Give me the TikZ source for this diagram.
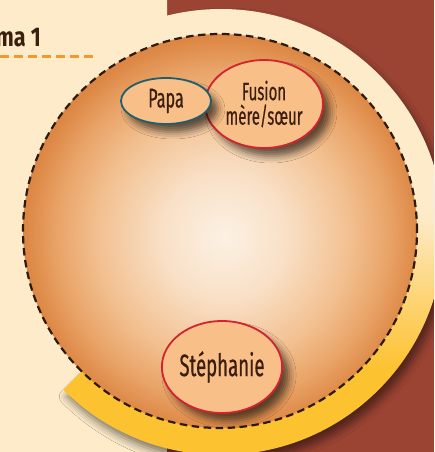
\documentclass[tikz,border=0pt]{standalone}
\usepackage{fontspec}
\setmainfont{Fira Sans}[FakeStretch=0.6, FakeBold=0.5]
\newfontfamily\titlefont{Fira Sans}[FakeStretch=0.8]
\usetikzlibrary{shapes.geometric,shadows.blur}
\definecolor{bgc}{HTML}{FDEBCA}
\definecolor{brownbg}{HTML}{9B4433}
\definecolor{ringY}{HTML}{FDC230}
\definecolor{ringC}{HTML}{FDEBCA}
\definecolor{discC}{HTML}{FCF1E4}
\definecolor{discA}{HTML}{F9E0C6}
\definecolor{discM}{HTML}{F2C090}
\definecolor{discN}{HTML}{E9A468}
\definecolor{discE}{HTML}{DD8744}
\definecolor{nodefill}{HTML}{F9BF88}
\definecolor{txt}{HTML}{3A1E0E}
\definecolor{tealb}{HTML}{1F5E6C}
\definecolor{redb}{HTML}{D2232F}
\definecolor{dashc}{HTML}{2C1A0E}
\definecolor{orangedash}{HTML}{F3972F}
\pgfdeclareradialshading{disc}{\pgfpoint{0.6bp}{-0.8bp}}{color(0bp)=(discC); color(8bp)=(discA); color(16bp)=(discM); color(21bp)=(discN); color(25bp)=(discE); color(50bp)=(discE)}
\pgfdeclareverticalshading{ring}{100bp}{color(0bp)=(ringY); color(36bp)=(ringY); color(52bp)=(ringC); color(100bp)=(ringC)}
\tikzset{
  person/.style={ellipse, draw, line width=1.8pt, fill=nodefill, text=txt, inner sep=0pt, align=center,
    blur shadow={shadow xshift=7pt, shadow yshift=-8pt, shadow blur radius=7pt, shadow opacity=60}},
  discline/.style={draw=dashc, line width=2.2pt, dash pattern=on 7.5pt off 4.5pt},
  titledash/.style={draw=orangedash, line width=2.6pt, dash pattern=on 9pt off 5pt}
}
\begin{document}
\begin{tikzpicture}[x=1pt,y=-1pt]
\useasboundingbox (0,0) rectangle (434,452);
\clip (0,0) rectangle (434,452);
\fill[bgc] (0,0) rectangle (434,452);
\fill[brownbg] (167,0) rectangle (434,452);
% ring
\coordinate (rc) at (221,232);
\shade[shading=ring, blur shadow={shadow xshift=4pt, shadow yshift=-7pt, shadow blur radius=8pt, shadow opacity=50}]
  (rc) -- ++(-135:223pt) arc[start angle=-135, end angle=135, radius=223pt] -- cycle;
\begin{scope}
  \clip (0,0) rectangle (167,300);
  \fill[bgc] (rc) -- ++(95:245pt) arc[start angle=95, end angle=205, radius=245pt] -- cycle;
\end{scope}
% disc
\coordinate (dc) at (220,231);
\shade[shading=disc] (dc) circle[radius=197pt];
\path[discline] (dc) circle[radius=197pt];
% title
\node[anchor=base east, text=txt, font=\titlefont\fontsize{27}{28}\selectfont\bfseries, inner sep=0pt] (title) at (41,47) {ma 1};
\coordinate (td1) at (0,56.5);
\coordinate (td2) at (96,56.5);
\path[titledash] (td1) -- (td2);
% nodes
\node[person, draw=redb, minimum width=118pt, minimum height=88pt, font=\fontsize{25}{23}\selectfont] (fusion) at (264,104) {Fusion\\[1.5pt]mère/sœur};
\node[person, draw=tealb, minimum width=90pt, minimum height=46pt, font=\fontsize{27}{28}\selectfont] (papa) at (166,101) {Papa};
\node[person, draw=redb, minimum width=120pt, minimum height=92pt, font=\fontsize{31}{32}\selectfont] (steph) at (222,367) {Stéphanie};
\end{tikzpicture}
\end{document}
